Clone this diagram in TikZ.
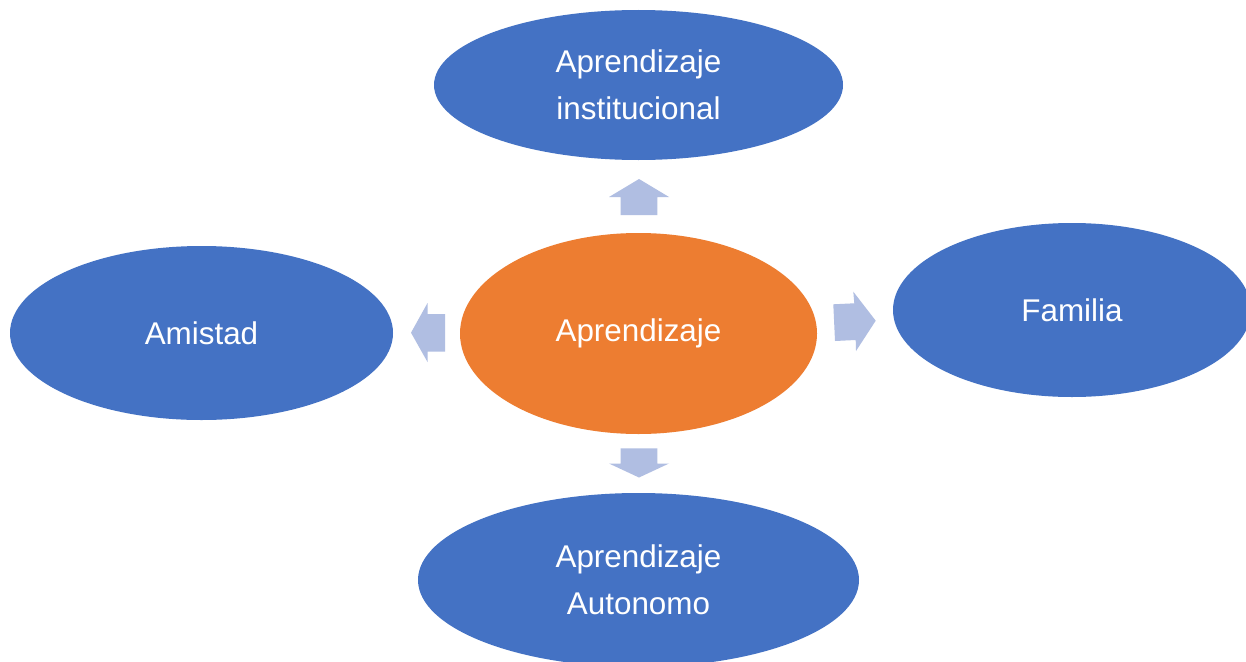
\documentclass[tikz,border=0pt]{standalone}
\usepackage{fontspec}
\setmainfont{Liberation Sans}
\usetikzlibrary{shapes.geometric}
\definecolor{ellblue}{HTML}{4472C4}
\definecolor{ellorange}{HTML}{ED7D31}
\definecolor{arrblue}{HTML}{B0BEE2}
\begin{document}
\begin{tikzpicture}[x=1pt,y=-1pt,
  bubble/.style={ellipse, inner sep=0pt, text=white, align=center,
    font=\fontsize{31.4}{47}\selectfont},
  bluebubble/.style={bubble, fill=ellblue},
  orangebubble/.style={bubble, fill=ellorange},
  blockarrow/.style={fill=arrblue, draw=none}]
\useasboundingbox (0,0) rectangle (1246,661);
\fill[white] (0,0) rectangle (1246,661);
\node[orangebubble, minimum width=357pt, minimum height=201pt] (center) at (638.5,333.5) {Aprendizaje};
\node[bluebubble, minimum width=409pt, minimum height=150pt] (top) at (638.5,85) {Aprendizaje\\institucional};
\node[bluebubble, minimum width=383pt, minimum height=174pt] (left) at (201.5,333) {Amistad};
\node[bluebubble, minimum width=358pt, minimum height=174pt] (right) at (1072,310) {Familia};
\node[bluebubble, minimum width=441pt, minimum height=174pt] (bottom) at (638.5,580) {Aprendizaje\\Autonomo};
% block arrows
\fill[blockarrow] (639,179) -- (669,197) -- (657.3,197) -- (657.3,215) -- (620.7,215) -- (620.7,197) -- (609,197) -- cycle;
\fill[blockarrow] (639,477.5) -- (669,463.5) -- (657.3,463.5) -- (657.3,448.3) -- (620.7,448.3) -- (620.7,463.5) -- (609,463.5) -- cycle;
\fill[blockarrow] (411,332.7) -- (427.5,303) -- (427.5,314) -- (445,314) -- (445,351.5) -- (427.5,351.5) -- (427.5,362) -- cycle;
\fill[blockarrow] (875.7,320.7) -- (856,351) -- (855.7,340) -- (835,341) -- (833.3,304.3) -- (854.3,303.3) -- (853.3,291.7) -- cycle;
\end{tikzpicture}
\end{document}
